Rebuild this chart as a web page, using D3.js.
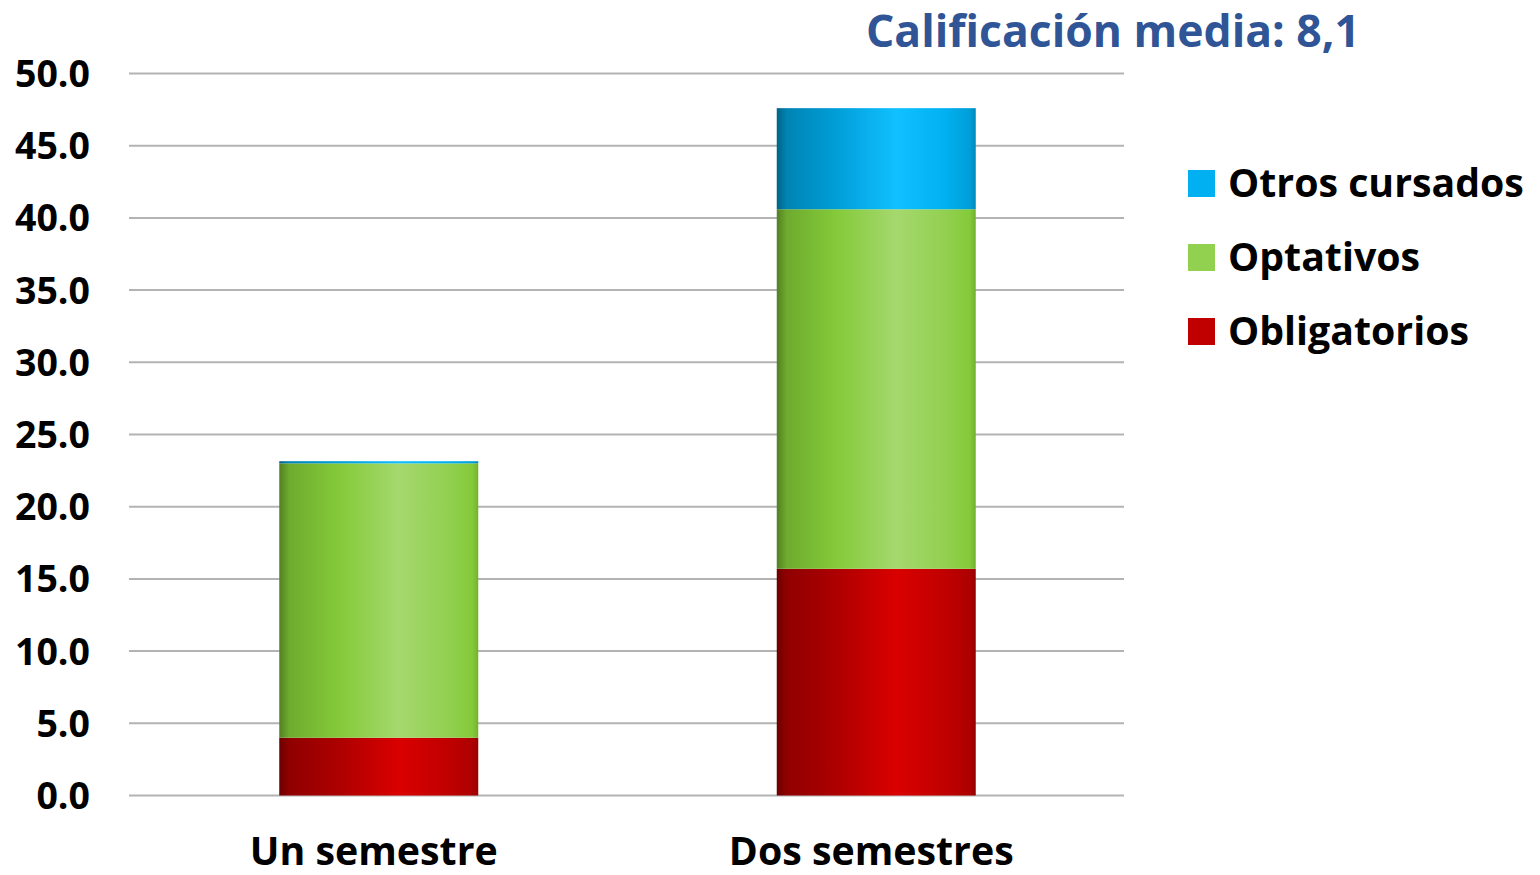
<!DOCTYPE html>
<html>
<head>
<meta charset="utf-8">
<script src="https://cdn.jsdelivr.net/npm/d3@7"></script>
<style>
  body { margin: 0; background: #fff; }
  svg text { font-family: "Open Sans", Lato, sans-serif; font-weight: bold; }
</style>
</head>
<body>
<div id="chart"></div>
<script>
const categories = ['Un semestre', 'Dos semestres'];
const obligatorios = [4.0, 15.7];
const optativos = [19.0, 24.9];
const otros = [0.15, 7.0];
const seriesNames = ['Obligatorios', 'Optativos', 'Otros cursados'];
const seriesColors = ['#c00000', '#92d050', '#00b0f0'];
const yTicks = [0, 5, 10, 15, 20, 25, 30, 35, 40, 45, 50];
const title = 'Calificación media: 8,1';

const WIDTH = 1540;
const HEIGHT = 875;
const PLOT = { left: 129, right: 1124, top: 73.5, bottom: 795.5 };

const svg = d3.select('#chart')
  .append('svg')
  .attr('width', WIDTH)
  .attr('height', HEIGHT);

// scale the font so that a reference text gets the wanted width
function fitSize(sample, width, size) {
  const t = svg.append('text').attr('font-size', size).text(sample);
  const w = t.node().getComputedTextLength();
  t.remove();
  return (size * width) / w;
}

// horizontal shading of the bars, dark on the left
const defs = svg.append('defs');
seriesColors.forEach((c, i) => {
  const base = d3.hsl(c);
  const g = defs.append('linearGradient')
    .attr('id', 'grad' + i)
    .attr('x1', '0%').attr('x2', '100%').attr('y1', '0%').attr('y2', '0%');
  const stops = [
    [0, base.darker(1.6)],
    [0.05, base.darker(0.8)],
    [0.3, base.darker(0.3)],
    [0.6, base.brighter(0.35)],
    [0.85, base],
    [0.97, base.darker(0.3)],
    [1, base.darker(0.7)]
  ];
  stops.forEach(([o, col]) => {
    g.append('stop').attr('offset', o).attr('stop-color', col.formatHex());
  });
});

const x = d3.scaleBand()
  .domain(categories)
  .range([PLOT.left, PLOT.right])
  .paddingInner(0.6)
  .paddingOuter(0.3);

const y = d3.scaleLinear()
  .domain([0, 50])
  .range([PLOT.bottom, PLOT.top]);

// gridlines
svg.append('g')
  .attr('class', 'grid')
  .selectAll('line')
  .data(yTicks)
  .join('line')
  .attr('x1', PLOT.left)
  .attr('x2', PLOT.right)
  .attr('y1', (d) => y(d))
  .attr('y2', (d) => y(d))
  .attr('stroke', '#b3b3b3')
  .attr('stroke-width', 2);

// y axis labels
const tickSize = fitSize('50.0', 75, 30);
svg.append('g')
  .attr('class', 'y axis')
  .selectAll('text')
  .data(yTicks)
  .join('text')
  .attr('x', 90)
  .attr('y', (d) => y(d))
  .attr('dy', '0.36em')
  .attr('text-anchor', 'end')
  .attr('font-size', tickSize)
  .attr('fill', '#000')
  .text((d) => d.toFixed(1));

// stacked bars
const rows = categories.map((c, i) => ({
  cat: c,
  Obligatorios: obligatorios[i],
  Optativos: optativos[i],
  'Otros cursados': otros[i]
}));
const stacked = d3.stack().keys(seriesNames)(rows);

svg.append('g')
  .attr('class', 'bars')
  .selectAll('g')
  .data(stacked)
  .join('g')
  .attr('fill', (d, i) => 'url(#grad' + i + ')')
  .selectAll('rect')
  .data((d) => d)
  .join('rect')
  .attr('x', (d) => x(d.data.cat) + 1)
  .attr('width', x.bandwidth())
  .attr('y', (d) => y(d[1]))
  .attr('height', (d) => y(d[0]) - y(d[1]));

// x labels
const catSize = fitSize('Un semestre', 248, 36);
svg.append('g')
  .attr('class', 'x axis')
  .selectAll('text')
  .data(categories)
  .join('text')
  .attr('x', (d) => x(d) + x.bandwidth() / 2 - 4)
  .attr('y', 865)
  .attr('text-anchor', 'middle')
  .attr('font-size', catSize)
  .attr('fill', '#000')
  .text((d) => d);

// legend (top entry is the top of the stack)
const legendSize = fitSize('Otros cursados', 296, 36);
const legend = svg.append('g').attr('class', 'legend');
const legendItems = seriesNames.map((n, i) => ({ name: n, color: seriesColors[i] })).reverse();
const item = legend.selectAll('g')
  .data(legendItems)
  .join('g')
  .attr('transform', (d, i) => 'translate(1188,' + (183 + i * 74) + ')');
item.append('rect')
  .attr('y', -13)
  .attr('width', 27)
  .attr('height', 27)
  .attr('fill', (d) => d.color);
item.append('text')
  .attr('x', 40)
  .attr('dy', '0.36em')
  .attr('font-size', legendSize)
  .attr('fill', '#000')
  .text((d) => d.name);

// title
svg.append('text')
  .attr('x', 866)
  .attr('y', 47)
  .attr('font-size', fitSize(title, 494, 42))
  .attr('fill', '#2f5597')
  .text(title);
</script>
</body>
</html>
